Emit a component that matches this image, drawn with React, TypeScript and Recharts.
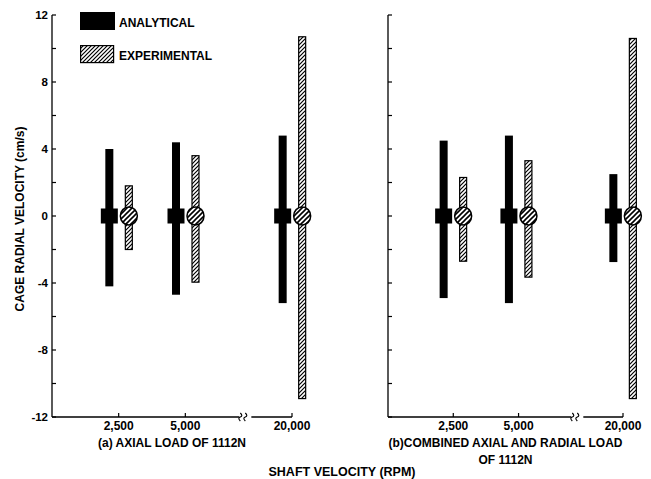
import { Bar, BarChart, Legend, ReferenceDot, XAxis, YAxis } from "recharts";

const categories = ["2,500", "5,000", "20,000"];

// (a) axial load of 1112 N
const analyticalMaxA = [4.0, 4.4, 4.8];
const analyticalMinA = [-4.2, -4.7, -5.2];
const experimentalMaxA = [1.8, 3.6, 10.7];
const experimentalMinA = [-2.0, -3.95, -10.9];

// (b) combined axial and radial load of 1112 N
const analyticalMaxB = [4.5, 4.8, 2.5];
const analyticalMinB = [-4.9, -5.2, -2.75];
const experimentalMaxB = [2.3, 3.3, 10.6];
const experimentalMinB = [-2.7, -3.65, -10.9];

const yTicks = [-12, -10, -8, -6, -4, -2, 0, 2, 4, 6, 8, 10, 12];

// broken shaft-speed axis: 2,500 and 5,000 evenly spaced, then a jump to 20,000
const SLOTS = [1, 2, 3.6];
const BREAK_AT = 2.9;

const FONT = '"Liberation Sans", Arial, sans-serif';

type Row = {
  slot: number;
  label: string;
  analytical: [number, number];
  experimental: [number, number];
};

function buildRows(aMax: number[], aMin: number[], eMax: number[], eMin: number[]): Row[] {
  return categories.map((c, i) => ({
    slot: SLOTS[i],
    label: c,
    analytical: [aMin[i], aMax[i]],
    experimental: [eMin[i], eMax[i]],
  }));
}

const rowsA = buildRows(analyticalMaxA, analyticalMinA, experimentalMaxA, experimentalMinA);
const rowsB = buildRows(analyticalMaxB, analyticalMinB, experimentalMaxB, experimentalMinB);

function rangeGeom(props: any, key: "analytical" | "experimental") {
  const { x, y, width, height, payload } = props;
  const [lo, hi] = payload[key];
  const top = Math.min(y, y + height);
  const h = Math.abs(height);
  const zeroY = top + h * (hi / (hi - lo));
  return { x, top, width, h, zeroY, cx: x + width / 2 };
}

const AnalyticalShape = (props: any) => {
  const g = rangeGeom(props, "analytical");
  return (
    <g>
      <rect x={g.x} y={g.top} width={g.width} height={g.h} fill="#000" />
      <rect x={g.cx - 8.5} y={g.zeroY - 7.5} width={17} height={15} fill="#000" />
    </g>
  );
};

const ExperimentalShape = (props: any) => {
  const g = rangeGeom(props, "experimental");
  return (
    <g>
      <rect x={g.x} y={g.top} width={g.width} height={g.h} fill="url(#hatch)" stroke="#000" strokeWidth={1.2} />
      <ellipse cx={g.cx} cy={g.zeroY} rx={8.5} ry={9} fill="url(#hatchWide)" stroke="#000" strokeWidth={1.5} />
    </g>
  );
};

const YTick = ({ x, y, payload, showLabel }: any) => (
  <g>
    <line x1={x} y1={y} x2={x + 4} y2={y} stroke="#000" strokeWidth={1.2} />
    {showLabel && payload.value % 4 === 0 && (
      <text x={x - 4} y={y} dy="0.35em" textAnchor="end" fontSize={11.5} fontWeight="bold" fontFamily={FONT} fill="#000">
        {payload.value}
      </text>
    )}
  </g>
);

const XTick = ({ x, y, payload }: any) => (
  <g>
    <line x1={x} y1={y} x2={x} y2={y - 4} stroke="#000" strokeWidth={1.2} />
    <text x={x} y={y + 13} textAnchor="middle" fontSize={12} fontWeight="bold" fontFamily={FONT} fill="#000">
      {categories[SLOTS.indexOf(payload.value)]}
    </text>
  </g>
);

const BreakMark = ({ cx, cy }: any) => (
  <g>
    <rect x={cx - 6} y={cy - 2} width={12} height={4} fill="#fff" />
    <path
      d={`M${cx - 5},${cy + 4} q-3,-3 0,-4 q3,-1 0,-4 M${cx},${cy + 4} q-3,-3 0,-4 q3,-1 0,-4`}
      fill="none"
      stroke="#000"
      strokeWidth={1.1}
    />
  </g>
);

const LegendBox = ({ payload }: any) => (
  <svg width={150} height={56}>
    {(payload || []).map((entry: any, i: number) => (
      <g key={entry.value} transform={`translate(0, ${i * 33})`}>
        {i === 0 ? (
          <rect x={0} y={0} width={35} height={18} fill="#000" />
        ) : (
          <rect x={0.6} y={0.6} width={33} height={17} fill="url(#hatch)" stroke="#000" strokeWidth={1.2} />
        )}
        <text x={39} y={15} fontSize={12} fontWeight="bold" fontFamily={FONT} fill="#000">
          {entry.value}
        </text>
      </g>
    ))}
  </svg>
);

function Panel({ data, lines, showY, yLabel, margin, width }: any) {
  return (
    <BarChart width={width} height={479} data={data} margin={margin} barGap={12}>
      <XAxis
        dataKey="slot"
        type="number"
        domain={[0, 3.6]}
        ticks={SLOTS}
        height={40}
        tickSize={0}
        tickMargin={0}
        tick={<XTick />}
        axisLine={{ stroke: "#000", strokeWidth: 1.3 }}
        tickLine={false}
        label={{
          content: (p: any) => {
            const vb = p.viewBox;
            const cx = vb.x + vb.width / 2;
            return (
              <text textAnchor="middle" fontSize={12} fontWeight="bold" fontFamily={FONT} fill="#000">
                {lines.map((l: string, i: number) => (
                  <tspan key={l} x={cx} y={vb.y + 30 + i * 17}>
                    {l}
                  </tspan>
                ))}
              </text>
            );
          },
        }}
      />
      <YAxis
        type="number"
        domain={[-12, 12]}
        ticks={yTicks}
        width={40}
        tickSize={0}
        tickMargin={0}
        tick={<YTick showLabel={showY} />}
        axisLine={{ stroke: "#000", strokeWidth: 1.3 }}
        tickLine={false}
        label={
          yLabel
            ? {
                content: (p: any) => {
                  const vb = p.viewBox;
                  const lx = vb.x + 8;
                  const ly = vb.y + vb.height / 2 + 3;
                  return (
                    <text
                      transform={`translate(${lx}, ${ly}) rotate(-90)`}
                      dy="0.35em"
                      textAnchor="middle"
                      fontSize={12}
                      fontWeight="bold"
                      fontFamily={FONT}
                      fill="#000"
                    >
                      {yLabel}
                    </text>
                  );
                },
              }
            : undefined
        }
      />
      {showY && (
        <Legend
          layout="horizontal"
          align="center"
          verticalAlign="middle"
          wrapperStyle={{ left: 80, top: 12, width: 150, height: 56 }}
          content={<LegendBox />}
        />
      )}
      <Bar dataKey="analytical" name="ANALYTICAL" fill="#000" barSize={8} shape={<AnalyticalShape />} isAnimationActive={false} />
      <Bar dataKey="experimental" name="EXPERIMENTAL" fill="#fff" barSize={7} shape={<ExperimentalShape />} isAnimationActive={false} />
      <ReferenceDot x={BREAK_AT} y={-12} shape={<BreakMark />} ifOverflow="visible" />
    </BarChart>
  );
}

export default function App() {
  return (
    <div style={{ position: "absolute", left: 0, top: 0, width: 651, height: 479, background: "#fff", fontFamily: FONT }}>
      <svg width={0} height={0} style={{ position: "absolute" }}>
        <defs>
          <pattern id="hatch" patternUnits="userSpaceOnUse" width={4} height={4}>
            <rect width={4} height={4} fill="#fff" />
            <path d="M-1,1 l2,-2 M0,4 l4,-4 M3,5 l2,-2" stroke="#000" strokeWidth={1.2} />
          </pattern>
          <pattern id="hatchWide" patternUnits="userSpaceOnUse" width={5} height={5}>
            <rect width={5} height={5} fill="#fff" />
            <path d="M-1,1 l2,-2 M0,5 l5,-5 M4,6 l2,-2" stroke="#000" strokeWidth={1.6} />
          </pattern>
        </defs>
      </svg>
      <div style={{ position: "absolute", left: 0, top: 0 }}>
        <Panel
          data={rowsA}
          width={330}
          showY
          yLabel="CAGE RADIAL VELOCITY (cm/s)"
          lines={["(a) AXIAL LOAD OF 1112N"]}
          margin={{ top: 15, right: 38, bottom: 22, left: 12 }}
        />
      </div>
      <div style={{ position: "absolute", left: 330, top: 0 }}>
        <Panel
          data={rowsB}
          width={321}
          showY={false}
          lines={["(b)COMBINED AXIAL AND RADIAL LOAD", "OF 1112N"]}
          margin={{ top: 15, right: 28, bottom: 22, left: 18 }}
        />
      </div>
      <div
        style={{
          position: "absolute",
          left: 0,
          width: 684,
          top: 465,
          textAlign: "center",
          fontSize: 12.5,
          fontWeight: "bold",
          lineHeight: "14px",
        }}
      >
        SHAFT VELOCITY (RPM)
      </div>
    </div>
  );
}
